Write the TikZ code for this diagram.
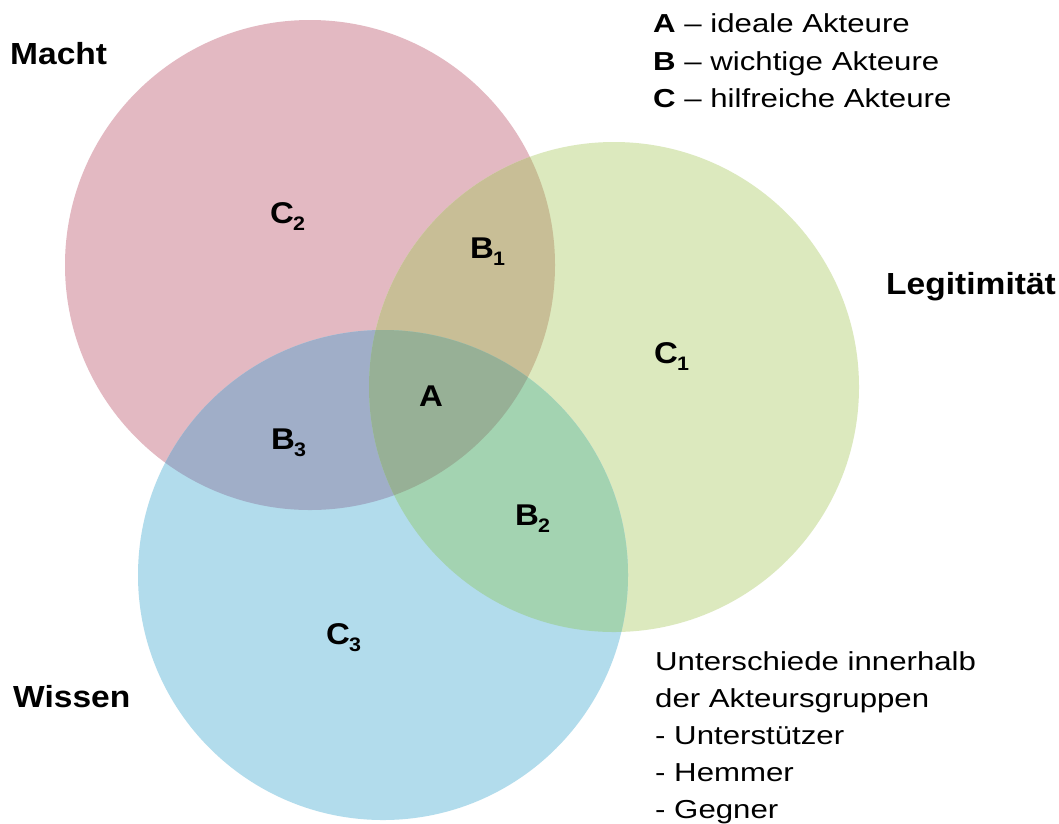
\documentclass[tikz,border=0pt]{standalone}
\usepackage{fontspec}
\newfontfamily\regf{Liberation Sans}[FakeStretch=1.2]
\newfontfamily\boldf{Liberation Sans}[FakeStretch=1.1]
\definecolor{pinkc}{HTML}{E3B9C2}
\definecolor{greenc}{HTML}{DCE9BE}
\definecolor{bluec}{HTML}{B2DCEC}
\definecolor{pgc}{HTML}{C8BE96}
\definecolor{pbc}{HTML}{A0AEC8}
\definecolor{gbc}{HTML}{A3D3B1}
\definecolor{allc}{HTML}{97B096}
\newcommand\lsub[1]{\kern-1pt\raisebox{-7pt}{\fontsize{19.5}{20}\selectfont #1}}
\begin{document}
\begin{tikzpicture}[x=1pt,y=-1pt,
  lbl/.style={font=\boldf\bfseries\fontsize{30}{30}\selectfont, inner sep=0pt, anchor=base west},
  title/.style={font=\boldf\bfseries\fontsize{30.5}{30}\selectfont, inner sep=0pt, anchor=base west},
  legend/.style={font=\regf\fontsize{26}{26}\selectfont, inner sep=0pt, anchor=base west}]
\useasboundingbox (0,0) rectangle (1059,823);
\fill[white] (0,0) rectangle (1059,823);
\coordinate (cm) at (310,265);
\coordinate (cg) at (614,387);
\coordinate (cb) at (383,575);
\def\pm{(cm) circle[radius=245pt]}
\def\pg{(cg) circle[radius=245pt]}
\def\pb{(cb) circle[radius=245pt]}
\fill[pinkc] \pm;
\fill[greenc] \pg;
\fill[bluec] \pb;
\begin{scope}\clip \pm; \fill[pgc] \pg; \end{scope}
\begin{scope}\clip \pm; \fill[pbc] \pb; \end{scope}
\begin{scope}\clip \pg; \fill[gbc] \pb; \end{scope}
\begin{scope}\clip \pm; \clip \pg; \fill[allc] \pb; \end{scope}

\node[lbl] (c2) at (270,223) {C\lsub{2}};
\node[lbl] (b1) at (470,258) {B\lsub{1}};
\node[lbl] (c1) at (654,363) {C\lsub{1}};
\node[lbl] (a) at (419,406) {A};
\node[lbl] (b3) at (271,449) {B\lsub{3}};
\node[lbl] (b2) at (515,525) {B\lsub{2}};
\node[lbl] (c3) at (326,644) {C\lsub{3}};

\node[title] (macht) at (10,64) {Macht};
\node[title] (legit) at (886,294) {Legitimität};
\node[title] (wissen) at (13,707) {Wissen};

\node[legend] (la) at (653,32) {{\bfseries A} – ideale Akteure};
\node[legend] (lb) at (653,70) {{\bfseries B} – wichtige Akteure};
\node[legend] (lc) at (653,107) {{\bfseries C} – hilfreiche Akteure};

\node[legend] (u1) at (655,670) {Unterschiede innerhalb};
\node[legend] (u2) at (655,707) {der Akteursgruppen};
\node[legend] (u3) at (655,744) {- Unterstützer};
\node[legend] (u4) at (655,781) {- Hemmer};
\node[legend] (u5) at (655,818) {- Gegner};
\end{tikzpicture}
\end{document}
